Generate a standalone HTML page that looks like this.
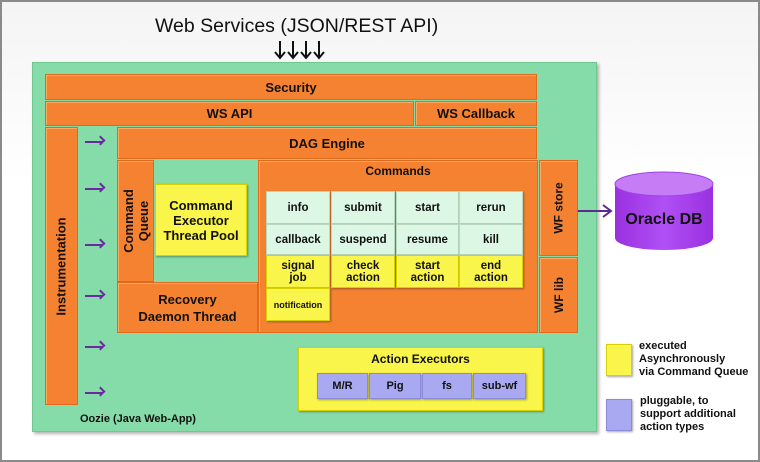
<!DOCTYPE html>
<html><head><style>
body{margin:0;width:760px;height:462px;overflow:hidden;background:#fff;font-family:"Liberation Sans",Arial,sans-serif;}
#f{position:absolute;left:0;top:0;width:756px;height:458px;border:2px solid #8a8a8a;background:linear-gradient(#f4f4f4,#fff 40%);}
.a{position:absolute;box-sizing:border-box;display:flex;align-items:center;justify-content:center;text-align:center;font-weight:bold;color:#111;}
.o{background:#f58231;border:1px solid #e06a1a;box-shadow:inset 1px 1px 0 #ffa860;}
.g{background:#86dca8;}
.y{background:#f9f54a;border:1px solid #d8d000;box-shadow:1px 1px 2px rgba(0,0,0,.35);}
.l{background:#dcf7e4;border:1px solid #b8d8c0;box-shadow:1px 1px 2px rgba(0,0,0,.3);}
.p{background:#a9a9f2;border:1px solid #8b8bd8;box-shadow:1px 1px 2px rgba(0,0,0,.35);}
.v span{transform:rotate(-90deg);white-space:nowrap;display:block;}
.arr{position:absolute;left:85px;width:18px;height:2px;background:#6a2aa0;}
.arr:after{content:"";position:absolute;right:-1px;top:-4px;width:7px;height:7px;border-top:2px solid #6a2aa0;border-right:2px solid #6a2aa0;transform:rotate(45deg);box-sizing:border-box;}
</style></head><body>
<div id="f"></div>
<div style="position:absolute;left:155px;top:15px;font-size:19.5px;color:#111">Web Services (JSON/REST API)</div>
<svg style="position:absolute;left:0;top:0" width="760" height="70">
<g stroke="#111" stroke-width="2" fill="none">
<line x1="280" y1="41" x2="280" y2="58"/><polyline points="275,52 280,58 285,52"/>
<line x1="293" y1="41" x2="293" y2="58"/><polyline points="288,52 293,58 298,52"/>
<line x1="306" y1="41" x2="306" y2="58"/><polyline points="301,52 306,58 311,52"/>
<line x1="319" y1="41" x2="319" y2="58"/><polyline points="314,52 319,58 324,52"/>
</g></svg>
<div class="a g" style="left:32px;top:62px;width:565px;height:370px;box-shadow:2px 2px 3px rgba(0,0,0,.3);border:1px solid #70c890"></div>
<div class="a o" style="left:45px;top:74px;width:492px;height:26px;font-size:13px">Security</div>
<div class="a o" style="left:45px;top:101px;width:369px;height:25px;font-size:13px">WS API</div>
<div class="a o" style="left:415px;top:101px;width:122px;height:25px;font-size:13px">WS Callback</div>
<div class="a o v" style="left:45px;top:127px;width:33px;height:278px;font-size:13px"><span>Instrumentation</span></div>
<div class="arr" style="top:141px"></div><div class="arr" style="top:188px"></div><div class="arr" style="top:244px"></div><div class="arr" style="top:295px"></div><div class="arr" style="top:346px"></div><div class="arr" style="top:392px"></div>
<div class="a o" style="left:117px;top:127px;width:420px;height:32px;font-size:13px">DAG Engine</div>
<div class="a o v" style="left:117px;top:160px;width:37px;height:122px;font-size:13px;line-height:15px"><span>Command<br>Queue</span></div>
<div class="a y" style="left:155px;top:184px;width:92px;height:72px;font-size:13px;line-height:15px">Command<br>Executor<br>Thread Pool</div>
<div class="a o" style="left:117px;top:282px;width:141px;height:51px;font-size:13px;line-height:17px">Recovery<br>Daemon Thread</div>
<div class="a o" style="left:258px;top:160px;width:280px;height:173px"></div>
<div class="a" style="left:258px;top:163px;width:280px;height:16px;font-size:12px">Commands</div>
<div class="a o v" style="left:539px;top:160px;width:39px;height:96px;font-size:12px"><span>WF store</span></div>
<div class="a o v" style="left:539px;top:257px;width:39px;height:76px;font-size:12px"><span>WF lib</span></div>
<div class="a l" style="left:266px;top:191px;width:64px;height:33px;font-size:11.5px">info</div>
<div class="a l" style="left:331px;top:191px;width:64px;height:33px;font-size:11.5px">submit</div>
<div class="a l" style="left:396px;top:191px;width:63px;height:33px;font-size:11.5px">start</div>
<div class="a l" style="left:459px;top:191px;width:64px;height:33px;font-size:11.5px">rerun</div>
<div class="a l" style="left:266px;top:224px;width:64px;height:31px;font-size:11.5px">callback</div>
<div class="a l" style="left:331px;top:224px;width:64px;height:31px;font-size:11.5px">suspend</div>
<div class="a l" style="left:396px;top:224px;width:63px;height:31px;font-size:11.5px">resume</div>
<div class="a l" style="left:459px;top:224px;width:64px;height:31px;font-size:11.5px">kill</div>
<div class="a y" style="left:266px;top:255px;width:64px;height:33px;font-size:11.5px;line-height:12px">signal<br>job</div>
<div class="a y" style="left:331px;top:255px;width:64px;height:33px;font-size:11.5px;line-height:12px">check<br>action</div>
<div class="a y" style="left:396px;top:255px;width:63px;height:33px;font-size:11.5px;line-height:12px">start<br>action</div>
<div class="a y" style="left:459px;top:255px;width:64px;height:33px;font-size:11.5px;line-height:12px">end<br>action</div>
<div class="a y" style="left:266px;top:288px;width:64px;height:33px;font-size:9px">notification</div>
<svg style="position:absolute;left:0;top:0" width="760" height="462">
<line x1="578" y1="211" x2="610" y2="211" stroke="#5a2a90" stroke-width="2"/>
<polyline points="603,205 611,211 603,217" fill="none" stroke="#5a2a90" stroke-width="2"/>
<defs><linearGradient id="c" x1="0" x2="1"><stop offset="0" stop-color="#9a30e0"/><stop offset=".5" stop-color="#b050f5"/><stop offset="1" stop-color="#9a30e0"/></linearGradient></defs>
<path d="M615,184 L615,238 A49,12 0 0 0 713,238 L713,184 Z" fill="url(#c)"/>
<ellipse cx="664" cy="184" rx="49" ry="12" fill="#c67cf5" stroke="#a040e8"/>
<text x="664" y="224" text-anchor="middle" font-family="Liberation Sans" font-weight="bold" font-size="16" fill="#111">Oracle DB</text>
</svg>
<div class="a y" style="left:298px;top:347px;width:245px;height:64px;align-items:flex-start;padding-top:4px;font-size:12px">Action Executors</div>
<div class="a p" style="left:317px;top:373px;width:51px;height:26px;font-size:11px">M/R</div>
<div class="a p" style="left:369px;top:373px;width:52px;height:26px;font-size:11px">Pig</div>
<div class="a p" style="left:422px;top:373px;width:50px;height:26px;font-size:11px">fs</div>
<div class="a p" style="left:473px;top:373px;width:53px;height:26px;font-size:11px">sub-wf</div>
<div style="position:absolute;left:80px;top:413px;font-size:11px;font-weight:bold;color:#111">Oozie (Java Web-App)</div>
<div class="a y" style="left:606px;top:344px;width:26px;height:32px"></div>
<div class="a p" style="left:606px;top:399px;width:26px;height:32px"></div>
<div style="position:absolute;left:639px;top:340px;font-size:11px;font-weight:bold;line-height:13px;color:#111">executed<br>Asynchronously<br>via Command Queue</div>
<div style="position:absolute;left:640px;top:395px;font-size:11px;font-weight:bold;line-height:13px;color:#111">pluggable, to<br>support additional<br>action types</div>
</body></html>
